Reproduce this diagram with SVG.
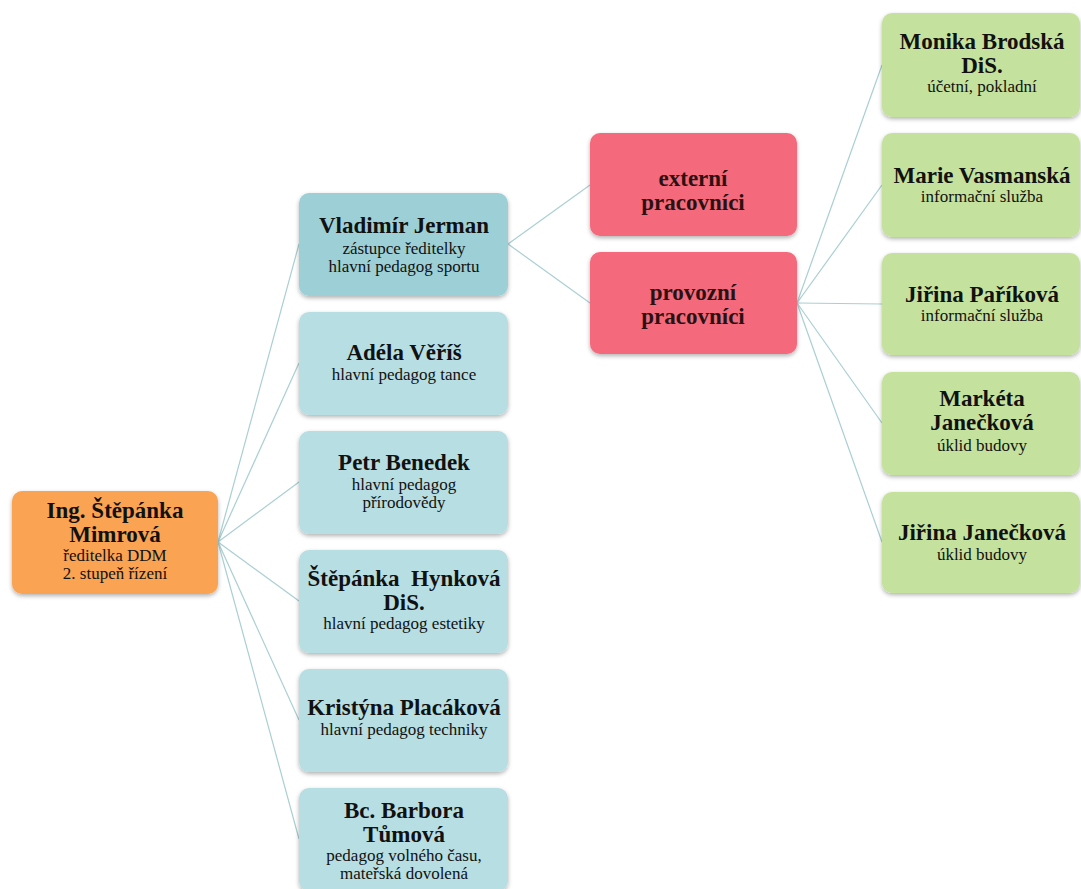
<svg xmlns="http://www.w3.org/2000/svg" width="1081" height="889" viewBox="0 0 1081 889">
<defs>
<filter id="sh" x="-10%" y="-10%" width="120%" height="130%">
<feDropShadow dx="0" dy="2" stdDeviation="2" flood-color="#000" flood-opacity="0.3"/>
</filter>
<style>
.box{filter:url(#sh);}
.root{fill:#F9A352;}
.t1{fill:#9DD0D6;}
.t2{fill:#B7DEE2;}
.red{fill:#F5697B;}
.grn{fill:#C4E29D;}
text{font-family:"Liberation Serif","Times New Roman",serif;text-anchor:middle;fill:#111;white-space:pre;}
.b{font-weight:bold;font-size:23px;}
.s{font-size:17px;}
.rt{fill:#2a1212;}
.con line{stroke:#AACFD3;stroke-width:1.2;fill:none;}
</style>
</defs>
<rect width="1081" height="889" fill="#fff"/>
<g class="con">
<line x1="218" y1="542" x2="299" y2="244"/>
<line x1="218" y1="542" x2="299" y2="363"/>
<line x1="218" y1="542" x2="299" y2="482"/>
<line x1="218" y1="542" x2="299" y2="601"/>
<line x1="218" y1="542" x2="299" y2="720"/>
<line x1="218" y1="542" x2="299" y2="839"/>
<line x1="508" y1="244" x2="590" y2="185"/>
<line x1="508" y1="244" x2="590" y2="303"/>
<line x1="797" y1="303" x2="882" y2="65"/>
<line x1="797" y1="303" x2="882" y2="185"/>
<line x1="797" y1="303" x2="882" y2="304"/>
<line x1="797" y1="303" x2="882" y2="423"/>
<line x1="797" y1="303" x2="882" y2="542"/>
</g>
<g id="root">
<rect class="box root" x="12" y="491" width="206" height="103" rx="10"/>
<text class="b" x="115" y="518">Ing. Štěpánka</text>
<text class="b" x="115" y="542">Mimrová</text>
<text class="s" x="115" y="561">ředitelka DDM</text>
<text class="s" x="115" y="579">2. stupeň řízení</text>
</g>
<g id="jerman">
<rect class="box t1" x="299" y="193" width="209" height="103" rx="10"/>
<text class="b" x="404" y="233">Vladimír Jerman</text>
<text class="s" x="404" y="254">zástupce ředitelky</text>
<text class="s" x="404" y="272">hlavní pedagog sportu</text>
</g>
<g id="veris">
<rect class="box t2" x="299" y="312" width="209" height="103" rx="10"/>
<text class="b" x="404" y="360">Adéla Věříš</text>
<text class="s" x="404" y="380">hlavní pedagog tance</text>
</g>
<g id="benedek">
<rect class="box t2" x="299" y="431" width="209" height="103" rx="10"/>
<text class="b" x="404" y="470">Petr Benedek</text>
<text class="s" x="404" y="490">hlavní pedagog</text>
<text class="s" x="404" y="508">přírodovědy</text>
</g>
<g id="hynkova">
<rect class="box t2" x="299" y="550" width="209" height="103" rx="10"/>
<text class="b" x="404" y="586">Štěpánka  Hynková</text>
<text class="b" x="404" y="610">DiS.</text>
<text class="s" x="404" y="629">hlavní pedagog estetiky</text>
</g>
<g id="placakova">
<rect class="box t2" x="299" y="669" width="209" height="103" rx="10"/>
<text class="b" x="404" y="715">Kristýna Placáková</text>
<text class="s" x="404" y="735">hlavní pedagog techniky</text>
</g>
<g id="tumova">
<rect class="box t2" x="299" y="788" width="209" height="103" rx="10"/>
<text class="b" x="404" y="818">Bc. Barbora</text>
<text class="b" x="404" y="842">Tůmová</text>
<text class="s" x="404" y="861">pedagog volného času,</text>
<text class="s" x="404" y="879">mateřská dovolená</text>
</g>
<g id="externi">
<rect class="box red" x="590" y="133" width="207" height="103" rx="10"/>
<text class="b rt" x="693" y="186">externí</text>
<text class="b rt" x="693" y="210">pracovníci</text>
</g>
<g id="provozni">
<rect class="box red" x="590" y="252" width="207" height="102" rx="10"/>
<text class="b rt" x="693" y="300">provozní</text>
<text class="b rt" x="693" y="324">pracovníci</text>
</g>
<g id="brodska">
<rect class="box grn" x="882" y="13" width="198" height="104" rx="10"/>
<text class="b" x="982" y="49">Monika Brodská</text>
<text class="b" x="982" y="73">DiS.</text>
<text class="s" x="982" y="92">účetní, pokladní</text>
</g>
<g id="vasmanska">
<rect class="box grn" x="882" y="133" width="198" height="104" rx="10"/>
<text class="b" x="982" y="183">Marie Vasmanská</text>
<text class="s" x="982" y="202">informační služba</text>
</g>
<g id="parikova">
<rect class="box grn" x="882" y="253" width="198" height="102" rx="10"/>
<text class="b" x="982" y="302">Jiřina Paříková</text>
<text class="s" x="982" y="321">informační služba</text>
</g>
<g id="mjaneckova">
<rect class="box grn" x="882" y="372" width="198" height="103" rx="10"/>
<text class="b" x="982" y="406">Markéta</text>
<text class="b" x="982" y="430">Janečková</text>
<text class="s" x="982" y="451">úklid budovy</text>
</g>
<g id="jjaneckova">
<rect class="box grn" x="882" y="492" width="198" height="101" rx="10"/>
<text class="b" x="982" y="540">Jiřina Janečková</text>
<text class="s" x="982" y="560">úklid budovy</text>
</g>
</svg>
